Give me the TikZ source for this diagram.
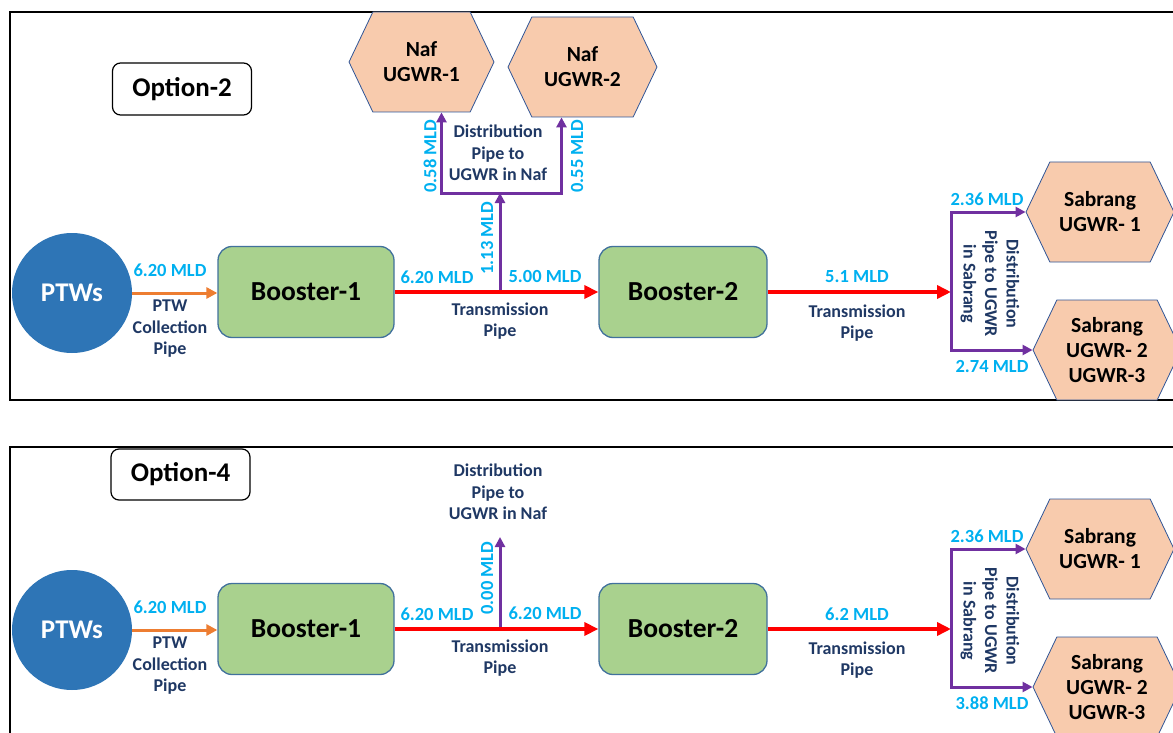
\documentclass[tikz,border=0pt]{standalone}
\usepackage{fontspec}
\setmainfont{Carlito}
\usetikzlibrary{arrows.meta,shapes.symbols}
\definecolor{ptwblue}{RGB}{46,117,182}
\definecolor{boostergreen}{RGB}{169,209,142}
\definecolor{boosteredge}{RGB}{65,113,156}
\definecolor{ugwrfill}{RGB}{248,203,173}
\definecolor{ugwredge}{RGB}{47,85,151}
\definecolor{mldcyan}{RGB}{0,176,240}
\definecolor{pipenavy}{RGB}{31,56,100}
\definecolor{collectorange}{RGB}{237,125,49}
\definecolor{transred}{RGB}{255,0,0}
\definecolor{distpurple}{RGB}{112,48,160}

\tikzset{
  optionbox/.style={draw,rounded corners=8pt,line width=1.2pt,minimum width=139pt,minimum height=52pt,font=\fontsize{27}{32}\selectfont\bfseries},
  ptw/.style={circle,fill=ptwblue,minimum size=120pt,inner sep=0pt,text=white,font=\fontsize{27}{32}\selectfont\bfseries},
  booster/.style={draw=boosteredge,fill=boostergreen,line width=1.3pt,rounded corners=14pt,minimum height=91pt,font=\fontsize{27.5}{33}\selectfont\bfseries},
  ugwr/.style={signal,signal to=west and east,signal pointer angle=129,draw=ugwredge,fill=ugwrfill,line width=0.8pt,minimum height=100pt,inner sep=0pt,align=center,font=\fontsize{21.5}{25}\selectfont\bfseries},
  mld/.style={text=mldcyan,inner sep=0pt,font=\fontsize{18.5}{21}\selectfont\bfseries},
  pipelabel/.style={text=pipenavy,inner sep=0pt,align=center,font=\fontsize{18}{21.5}\selectfont\bfseries},
  collect/.style={collectorange,line width=3pt,-{Triangle[length=11pt,width=11pt]}},
  trans/.style={transred,line width=4pt,-{Triangle[length=14pt,width=13pt]}},
  dist/.style={distpurple,line width=3pt,>={Triangle[length=10pt,width=10pt]}},
  panel/.style={line width=2pt}
}

\begin{document}
\begin{tikzpicture}[x=1pt,y=-1pt]
    \useasboundingbox (0,0) rectangle (1173,733);
    \clip (0,0) rectangle (1173,733);

    % Option-2
    \draw[panel] (10,12) rectangle (1190,400);
    \node[optionbox] (o2opt) at (182,89) {Option-2};
    \node[ptw] (o2ptw) at (72,293) {PTWs};
    \node[booster,minimum width=176pt] (o2boost1) at (306,292) {Booster-1};
    \node[booster,minimum width=168pt] (o2boost2) at (683,292) {Booster-2};
    \node[ugwr,minimum width=145pt] (o2naf1) at (421.5,62) {Naf\\UGWR-1};
    \node[ugwr,minimum width=149pt] (o2naf2) at (582.5,67) {Naf\\UGWR-2};
    \node[ugwr,minimum width=148pt] (o2sab1) at (1100,212) {Sabrang\\UGWR- 1};
    \node[ugwr,minimum width=148pt] (o2sab2) at (1107,350) {Sabrang\\UGWR- 2\\UGWR-3};
    \coordinate (o2tee) at (500,292);
    \coordinate (o2nafbar) at (500,193);
    \coordinate (o2sabbar) at (951,292);

    \draw[dist,->] (o2tee) -- (o2nafbar);
    \draw[dist,<->] ([xshift=20pt]o2naf1.south) |- (o2nafbar) -| ([xshift=-21pt]o2naf2.south);
    \draw[collect] (o2ptw.east) -- (o2ptw.east -| o2boost1.west);
    \draw[trans] (o2boost1.east) -- (o2boost2.west);
    \draw[trans] (o2boost2.east) -- (o2sabbar);
    \draw[dist,<->] (o2sab1.west) -| (o2sabbar) |- (o2sab2.west);

    \node[mld] at (170,270) {6.20 MLD};
    \node[pipelabel] at (170,329) {PTW\\Collection\\Pipe};
    \node[mld] at (437,277) {6.20 MLD};
    \node[mld] at (545,276) {5.00 MLD};
    \node[pipelabel] at (500,321) {Transmission\\Pipe};
    \node[mld,rotate=90] at (487,238) {1.13 MLD};
    \node[mld,rotate=90] at (430,156) {0.58 MLD};
    \node[mld,rotate=90] at (577,156) {0.55 MLD};
    \node[pipelabel] at (498,153) {Distribution\\Pipe to\\UGWR in Naf};
    \node[mld] at (857,277) {5.1 MLD};
    \node[pipelabel] at (857,323) {Transmission\\Pipe};
    \node[mld] at (987,199) {2.36 MLD};
    \node[mld] at (992,366) {2.74 MLD};
    \node[pipelabel,rotate=-90] at (990,284) {Distribution\\Pipe to UGWR\\in Sabrang};

    % Option-4
    \draw[panel] (10,447) rectangle (1190,800);
    \node[optionbox,minimum height=51pt] (o4opt) at (180.5,474.5) {Option-4};
    \node[ptw] (o4ptw) at (72,630) {PTWs};
    \node[booster,minimum width=176pt] (o4boost1) at (306,629) {Booster-1};
    \node[booster,minimum width=168pt] (o4boost2) at (683,629) {Booster-2};
    \node[ugwr,minimum width=148pt] (o4sab1) at (1100,549) {Sabrang\\UGWR- 1};
    \node[ugwr,minimum width=148pt] (o4sab2) at (1107,687) {Sabrang\\UGWR- 2\\UGWR-3};
    \coordinate (o4tee) at (500,629);
    \coordinate (o4naftop) at (500,537);
    \coordinate (o4sabbar) at (951,629);

    \draw[dist,->] (o4tee) -- (o4naftop);
    \draw[collect] (o4ptw.east) -- (o4ptw.east -| o4boost1.west);
    \draw[trans] (o4boost1.east) -- (o4boost2.west);
    \draw[trans] (o4boost2.east) -- (o4sabbar);
    \draw[dist,<->] (o4sab1.west) -| (o4sabbar) |- (o4sab2.west);

    \node[mld] at (170,607) {6.20 MLD};
    \node[pipelabel] at (170,666) {PTW\\Collection\\Pipe};
    \node[mld] at (437,614) {6.20 MLD};
    \node[mld] at (545,613) {6.20 MLD};
    \node[pipelabel] at (500,658) {Transmission\\Pipe};
    \node[mld,rotate=90] at (487,578) {0.00 MLD};
    \node[pipelabel] at (498,492) {Distribution\\Pipe to\\UGWR in Naf};
    \node[mld] at (857,614) {6.2 MLD};
    \node[pipelabel] at (857,660) {Transmission\\Pipe};
    \node[mld] at (987,536) {2.36 MLD};
    \node[mld] at (992,703) {3.88 MLD};
    \node[pipelabel,rotate=-90] at (990,621) {Distribution\\Pipe to UGWR\\in Sabrang};
\end{tikzpicture}
\end{document}
